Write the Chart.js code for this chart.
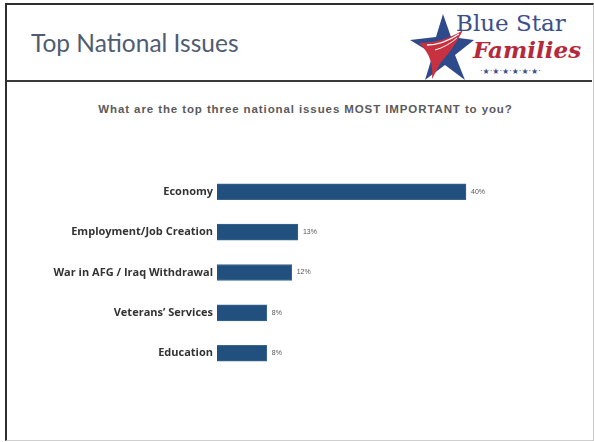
<!DOCTYPE html>
<html>
<head>
<meta charset="utf-8">
<script src="https://cdn.jsdelivr.net/npm/chart.js@4.4.1/dist/chart.umd.min.js"></script>
<style>
  html, body { margin: 0; padding: 0; background: #fff; }
  #page { position: relative; width: 594px; height: 442px; overflow: hidden; background: #fff; }
  #frame { position: absolute; left: 5px; top: 3px; width: 586px; height: 435px;
           border-left: 2px solid #2e2e2e; border-top: 2px solid #2e2e2e;
           border-right: 1px solid #c8c8c8; border-bottom: 1px solid #d0d0d0; }
  #divider { position: absolute; left: 7px; top: 80px; width: 585px; height: 0; border-top: 2px solid #3a3a3a; }
  #title { position: absolute; left: 31px; top: 28px; font-family: Lato, "Open Sans", sans-serif;
           font-size: 24.5px; color: #4f5c72; white-space: nowrap; }
  #subtitle { position: absolute; left: 0; width: 611px; text-align: center; top: 103px;
              font-family: "Liberation Sans", Arial, sans-serif; font-weight: bold; font-size: 11.5px;
              letter-spacing: 0.9px; color: #5a5a5a; white-space: nowrap; }
  #logo1 { position: absolute; left: 456px; top: 10px; font-family: "DejaVu Serif", "Liberation Serif", serif;
           font-size: 23px; color: #3c4f8c; white-space: nowrap; }
  #logo2 { position: absolute; left: 473px; top: 36px; font-family: "DejaVu Serif", "Liberation Serif", serif;
           font-size: 23px; font-weight: bold; font-style: italic; color: #b42a3c; white-space: nowrap; }
  #logo3 { position: absolute; left: 480px; top: 67px; font-family: "DejaVu Sans", sans-serif;
           font-size: 8px; color: #3c4f8c; white-space: nowrap; }
  #star { position: absolute; left: 405px; top: 8px; }
  #chartbox { position: absolute; left: 0; top: 161px; width: 594px; height: 223px; }
</style>
</head>
<body>
<div id="page">
  <div id="frame"></div>
  <div id="divider"></div>
  <div id="title">Top National Issues</div>
  <svg id="star" width="74" height="76" viewBox="0 0 74 76">
    <polygon points="38,6 46,29 69,32 50,47 60,72 40,57 20,72 28,46 5,32 31,29" fill="#2f4a8a"/>
    <path d="M14,35 C30,35 44,31 58,22 C52,34 44,46 36,54 L27,71 C28,58 26,46 14,35 Z" fill="#c8313f"/>
    <path d="M22,37 C34,37 45,32 54,26" stroke="#ffffff" stroke-width="1.3" fill="none"/>
    <path d="M30,42 C38,40 46,35 52,30" stroke="#ffffff" stroke-width="1" fill="none"/>
  </svg>
  <div id="logo1">Blue Star</div>
  <div id="logo2">Families</div>
  <div id="logo3">·★·★·★·★·★·★·</div>
  <div id="subtitle">What are the top three national issues MOST IMPORTANT to you?</div>
  <div id="chartbox"><canvas id="c" width="594" height="223"></canvas></div>
</div>
<script>
const categories = ["Economy", "Employment/Job Creation", "War in AFG / Iraq Withdrawal", "Veterans’ Services", "Education"];
const values = [40, 13, 12, 8, 8];
const valueLabels = ["40%", "13%", "12%", "8%", "8%"];

const valueLabelPlugin = {
  id: 'valueLabels',
  afterDatasetsDraw(chart) {
    const ctx = chart.ctx;
    const meta = chart.getDatasetMeta(0);
    ctx.save();
    ctx.font = '7px "Liberation Sans", Arial, sans-serif';
    ctx.fillStyle = '#555555';
    ctx.textAlign = 'left';
    ctx.textBaseline = 'middle';
    meta.data.forEach((bar, i) => {
      ctx.fillText(valueLabels[i], bar.x + 5, bar.y);
    });
    ctx.restore();
  }
};

new Chart(document.getElementById('c'), {
  type: 'bar',
  data: {
    labels: categories,
    datasets: [{
      data: values,
      backgroundColor: '#21507e',
      borderColor: '#3a6590',
      borderWidth: 1,
      barThickness: 16
    }]
  },
  options: {
    indexAxis: 'y',
    responsive: false,
    animation: false,
    layout: { padding: { top: 0, bottom: 0, left: 0, right: 65.75 } },
    plugins: { legend: { display: false }, tooltip: { enabled: false } },
    scales: {
      x: { display: false, min: 0, max: 50 },
      y: {
        afterFit(scale) { scale.width = 217; },
        grid: { display: false, drawTicks: false },
        border: { display: false },
        ticks: {
          padding: 4,
          color: '#333333',
          font: { family: '"Open Sans", sans-serif', weight: 'bold', size: 11 }
        }
      }
    }
  },
  plugins: [valueLabelPlugin]
});
</script>
</body>
</html>
